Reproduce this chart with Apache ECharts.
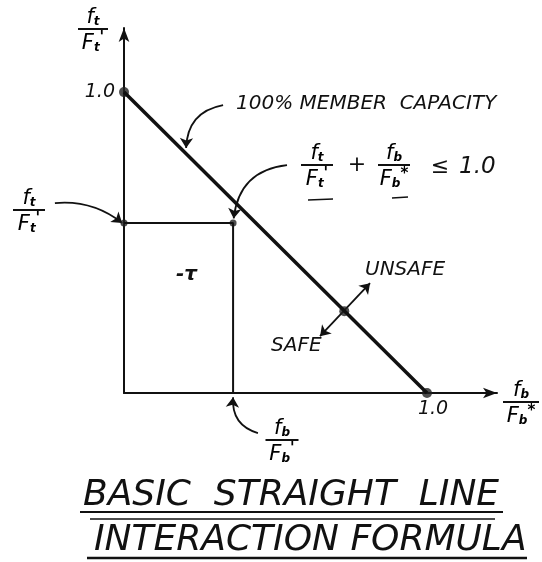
<!DOCTYPE html>
<html lang="en">
<head>
<meta charset="UTF-8">
<title>Basic straight line interaction formula</title>
<script src="https://cdn.jsdelivr.net/npm/echarts@6/dist/echarts.min.js"></script>
<style>
  html, body { margin: 0; padding: 0; background: #fff; }
  #container { width: 542px; height: 562px; }
</style>
</head>
<body>
<div id="container"></div>
<script>
  // interaction line  ft/Ft' + fb/Fb* = 1.0
  var capacityLine = [[0, 1], [1, 0]];
  // actual stress point (fb/Fb', ft/Ft') and its projections
  var stressBox = [[0, 0.565], [0.36, 0.565], [0.36, 0]];
  // end points of the line, bigger dots
  var endDots = [[0, 1], [1, 0], [0.727, 0.272]];
  // stress point, its projection on the ft axis
  var smallDots = [[0.36, 0.565], [0, 0.565]];
  var axisTicks = [1];
  var axisMax = { x: 1.231, y: 1.213 };

  // leader arrows: [from, to, curveness]
  var leaders = [
    [[0.327, 0.957], [0.205, 0.814], -0.4],   // 100% member capacity
    [[0.538, 0.757], [0.362, 0.58], -0.4],    // formula
    [[-0.228, 0.631], [-0.006, 0.565], 0.2],  // ft/Ft'
    [[0.442, -0.133], [0.36, -0.014], 0.4]    // fb/Fb'
  ];
  var safeArrow = [[0.647, 0.189], [0.812, 0.365]];

  var INK = '#111';
  var FONT = 'DejaVu Sans';

  var chart = echarts.init(document.getElementById('container'));

  // fraction built from text + bar
  function frac(cx, by, w, nm, ns, dm, ds, dsup) {
    var rich = {
      m: { fontSize: 21, lineHeight: 23, fontStyle: 'italic', fontFamily: FONT, color: INK, verticalAlign: 'bottom' },
      s: { fontSize: 12, lineHeight: 12, fontStyle: 'italic', fontFamily: FONT, color: INK, fontWeight: 'bold', verticalAlign: 'bottom' },
      p: { fontSize: 15, lineHeight: 15, fontFamily: FONT, color: INK, fontWeight: 'bold', verticalAlign: 'top' }
    };
    return [{
      type: 'text', x: cx, y: by - 1,
      style: { text: '{m|' + nm + '}{s|' + ns + '}', rich: rich, align: 'center', verticalAlign: 'bottom' }
    }, {
      type: 'line', shape: { x1: cx - w / 2, y1: by, x2: cx + w / 2, y2: by },
      style: { stroke: INK, lineWidth: 2 }
    }, {
      type: 'text', x: cx, y: by + 2,
      style: { text: '{m|' + dm + '}{s|' + ds + '}{p|' + dsup + '}', rich: rich, align: 'center', verticalAlign: 'top' }
    }];
  }

  function label(x, y, text, size, align, weight) {
    return {
      type: 'text', x: x, y: y,
      style: {
        text: text, fontSize: size, fontStyle: 'italic', fontFamily: FONT, fill: INK,
        fontWeight: weight || 'normal', align: align || 'left', verticalAlign: 'middle'
      }
    };
  }

  function rule(x1, y1, x2, y2, w) {
    return { type: 'line', shape: { x1: x1, y1: y1, x2: x2, y2: y2 }, style: { stroke: INK, lineWidth: w || 2 } };
  }

  var graphics = [].concat(
    frac(93, 29, 30, 'f', 't', 'F', 't', '\''),
    frac(29, 210, 32, 'f', 't', 'F', 't', '\''),
    frac(317, 165, 32, 'f', 't', 'F', 't', '\''),
    frac(394, 165, 32, 'f', 'b', 'F', 'b', '*'),
    frac(521, 402, 36, 'f', 'b', 'F', 'b', '*'),
    frac(282, 440, 33, 'f', 'b', 'F', 'b', '\''),
    [
      label(236, 104, '100% MEMBER  CAPACITY', 20),
      label(357, 165, '+', 22, 'center'),
      label(440, 167, '\u2264', 22, 'center'),
      label(459, 167, '1.0', 23),
      rule(308, 200, 333, 199, 1.5),
      rule(392, 198, 408, 197, 1.5),
      label(365, 270, 'UNSAFE', 20),
      label(271, 346, 'SAFE', 20),
      label(176, 275, '-\u03c4', 20, 'left', 'bold'),
      label(83, 496, 'BASIC  STRAIGHT  LINE', 36),
      rule(80, 512, 503, 512, 2),
      rule(90, 519, 495, 519, 1.5),
      label(94, 541, 'INTERACTION FORMULA', 36),
      rule(87, 558, 527, 558, 2.5)
    ]
  );

  var option = {
    backgroundColor: '#fff',
    animation: false,
    grid: { left: 124, right: 45, top: 28, bottom: 169 },
    xAxis: {
      type: 'value', min: 0, max: axisMax.x, interval: 1,
      axisLine: { symbol: ['none', 'arrow'], symbolSize: [8, 14], lineStyle: { color: INK, width: 2 } },
      axisTick: { show: false },
      splitLine: { show: false },
      axisLabel: {
        margin: 7, padding: [0, 0, 0, 12], color: INK, fontSize: 19, fontStyle: 'italic', fontFamily: FONT,
        formatter: function (v) { return axisTicks.indexOf(v) >= 0 ? v.toFixed(1) : ''; }
      }
    },
    yAxis: {
      type: 'value', min: 0, max: axisMax.y, interval: 1,
      axisLine: { show: true, symbol: ['none', 'arrow'], symbolSize: [8, 14], lineStyle: { color: INK, width: 2 } },
      axisTick: { show: false },
      splitLine: { show: false },
      axisLabel: {
        margin: 9, color: INK, fontSize: 19, fontStyle: 'italic', fontFamily: FONT,
        formatter: function (v) { return axisTicks.indexOf(v) >= 0 ? v.toFixed(1) : ''; }
      }
    },
    series: [{
      type: 'line', data: capacityLine, symbol: 'none',
      lineStyle: { color: INK, width: 3.5 }
    }, {
      type: 'line', data: stressBox, symbol: 'none',
      lineStyle: { color: INK, width: 2 }
    }, {
      type: 'scatter', data: endDots, symbolSize: 10,
      itemStyle: { color: '#222' }
    }, {
      type: 'scatter', data: smallDots, symbolSize: 7,
      itemStyle: { color: '#222' }
    }, {
      type: 'lines', coordinateSystem: 'cartesian2d', clip: false,
      symbol: ['none', 'arrow'], symbolSize: 10,
      lineStyle: { color: INK, width: 1.8, opacity: 1 },
      data: leaders.map(function (l) {
        return { coords: [l[0], l[1]], lineStyle: { curveness: l[2] } };
      })
    }, {
      type: 'lines', coordinateSystem: 'cartesian2d', clip: false,
      symbol: ['arrow', 'arrow'], symbolSize: 10,
      lineStyle: { color: INK, width: 1.8, opacity: 1 },
      data: [{ coords: safeArrow }]
    }],
    graphic: graphics
  };

  chart.setOption(option);
</script>
</body>
</html>
